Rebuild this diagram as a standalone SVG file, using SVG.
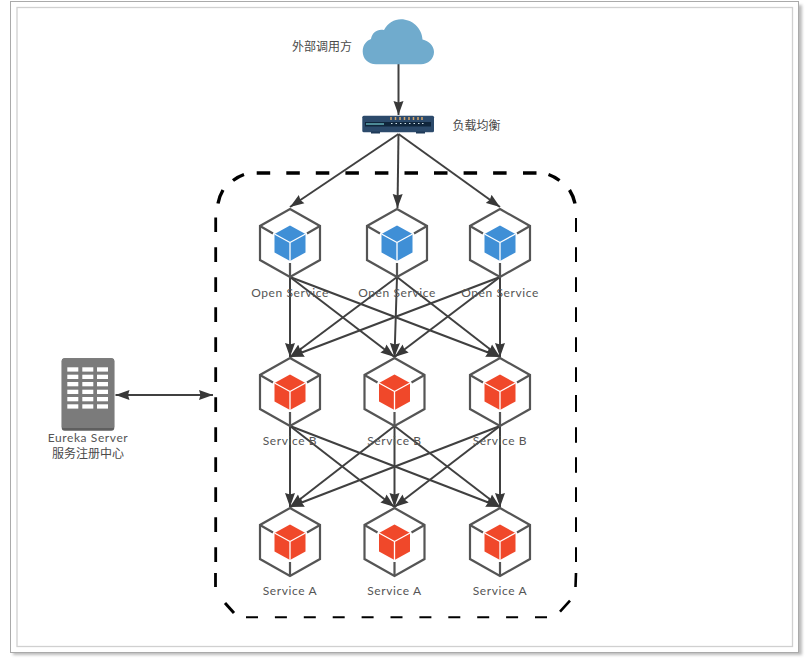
<svg xmlns="http://www.w3.org/2000/svg" width="806" height="660" viewBox="0 0 806 660">
<style>
.t{font-family:"Lato","Noto Sans CJK SC",sans-serif;font-size:12px;fill:#555;text-anchor:middle;letter-spacing:.6px}
.c{font-family:"Noto Sans CJK SC",sans-serif;font-size:12px;fill:#4a4a4a;text-anchor:middle}
.a{stroke:#404040;stroke-width:2;fill:none;marker-end:url(#ah)}
.hex{fill:#fff;stroke:#555;stroke-width:2.2}
.sp{stroke:#555;stroke-width:2.2;fill:none}
.cw{stroke:#fff;stroke-width:1.3;fill:none}
.w{fill:#fff}
.d{fill:none;stroke:#000}
</style>
<defs>
<filter id="blur" x="-5%" y="-5%" width="110%" height="110%"><feGaussianBlur stdDeviation="1.5"/></filter>
<marker id="ah" markerUnits="userSpaceOnUse" markerWidth="15" markerHeight="11" refX="14" refY="5.500" orient="auto-start-reverse" viewBox="0 0 15 11">
<path d="M0 0.500L14 5.500L0 10.500L1.500 5.500Z" fill="#383838"/>
</marker>
<g id="hexb">
<path class="hex" d="M0-34L30-17V17L0 34L-30 17V-17Z"/>
<path class="sp" d="M-30-17L-17-9.500M30-17L17-9.500M0 34V20"/>
</g>
<g id="blue"><use href="#hexb"/><path d="M0-17.500L15.500-9V9.500L0 18L-15.500 9.500V-9Z" fill="#3f8fd6"/><path class="cw" d="M0-.5V18M0-.5L-15.500-9M0-.5L15.500-9"/></g>
<g id="red"><use href="#hexb"/><path d="M0-17.500L15.500-9V9.500L0 18L-15.500 9.500V-9Z" fill="#f0482a"/><path class="cw" d="M0-.5V18M0-.5L-15.500-9M0-.5L15.500-9"/></g>
</defs>
<rect width="806" height="660" fill="#fff"/>
<rect id="frame-shadow" x="13" y="5" width="789" height="650" fill="#bbb" filter="url(#blur)"/>
<rect id="frame-outer" x="10.500" y="1.500" width="788" height="651" fill="#fff" stroke="#aaa"/>
<rect id="frame-inner" x="17" y="7.500" width="775.500" height="639" fill="#fff" stroke="#d0d0d0" stroke-width="1.300"/>
<g id="boundary">
<path class="d" stroke-width="3.400" d="M256.700 173H270.200M286.300 173H299.800M315.800 173H329.300M345.400 173H358.900M374.900 173H388.400M404.500 173H418M434 173H447.500M463.600 173H477.100M493.100 173H506.600M523 173H536.500"/>
<path class="d" stroke-width="3.400" d="M244 174.500A40 40 0 0 0 233 180.500M223 190A40 40 0 0 0 218 203.500M548.500 174.500A40 40 0 0 1 559.500 180.500M569.500 190A40 40 0 0 1 575 203.500"/>
<path class="d" stroke-width="2.800" d="M215.700 217.500V232M215.700 247.300V262M215.700 277.300V292M215.700 307.300V322M215.700 337.300V352M215.700 367.300V382M215.700 397.300V412M215.700 427.300V442M215.700 457.300V472M215.700 487.300V502M215.700 517.300V532M215.700 547.300V562M215.500 573V587"/>
<path class="d" stroke-width="3" d="M225 603L234 613"/>
<path class="d" stroke-width="2" d="M576 218V232M576 247.300V262M576 277.300V292M576 307.300V322M576 337.300V352M576 367.300V382M576 395V412M576 427.300V442.700M576 457.300V472.700M576 487.300V502M576 517.300V532M576 547.300V562"/>
<path class="d" stroke-width="2.600" d="M575.500 587L576 573M570 600.700L560 611.700"/>
<path class="d" stroke-width="2" d="M246 617.300H258M274.900 617.300H286.900M303.800 617.300H315.800M332.700 617.300H344.700M361.600 617.300H373.600M390.500 617.300H402.500M419.400 617.300H431.400M448.300 617.300H460.300M477.200 617.300H489.200M506.100 617.300H518.100M535 617.300H547"/>
</g>
<g id="connectors">
<path class="a" d="M398.500 64V115"/>
<path class="a" d="M398.500 134L290 207"/>
<path class="a" d="M398.500 134L397.500 208"/>
<path class="a" d="M398.500 134L500 207"/>
<path class="a" d="M290 277V357"/><path class="a" d="M290 277L394.500 357"/><path class="a" d="M290 277L500 357"/>
<path class="a" d="M397 277L290 357"/><path class="a" d="M397 277L394.500 357"/><path class="a" d="M397 277L500 357"/>
<path class="a" d="M500 277L290 357"/><path class="a" d="M500 277L394.500 357"/><path class="a" d="M500 277V357"/>
<path class="a" d="M290 426V507"/><path class="a" d="M290 426L394.500 507"/><path class="a" d="M290 426L500 507"/>
<path class="a" d="M394.500 426L290 507"/><path class="a" d="M394.500 426V507"/><path class="a" d="M394.500 426L500 507"/>
<path class="a" d="M500 426L290 507"/><path class="a" d="M500 426L394.500 507"/><path class="a" d="M500 426V507"/>
<path d="M115.500 395H213" style="stroke:#404040;stroke-width:2;fill:none;marker-start:url(#ah);marker-end:url(#ah)"/>
</g>
<g id="caller">
<path d="M376 64.300C368 64.300 362.700 58.500 362.700 51.500C362.700 44.500 367 40.500 371 39C372 32 378 28.500 384 30C388 23 394 19.300 401 19.300C412 19.300 422 28 422.500 39.500C429 41 434 46 434 52C434 59 428 64.300 421 64.300Z" fill="#70abcd"/>
<text class="c" x="322" y="51">外部调用方</text>
</g>
<g id="lb">
<rect x="362.300" y="115.700" width="71.700" height="16.500" rx="1.500" fill="#2c4a6b"/>
<rect x="371" y="131.500" width="9" height="2" fill="#1f3a58"/><rect x="416" y="131.500" width="9" height="2" fill="#1f3a58"/>
<rect x="365" y="122" width="66" height="4.500" fill="#10263c"/>
<rect x="366" y="123" width="18" height="2" fill="#4d8a96"/>
<path d="M391 117V120M395.500 117V120M400 117V120M404.500 117V120M409 117V120M413.500 117V120M418 117V120M422 117V120" stroke="#d9a868" stroke-width="1.500"/>
<path d="M391 123.500h1.500M395.500 123.500h1.500M400 123.500h1.500M404.500 123.500h1.500M409 123.500h1.500M413.500 123.500h1.500M418 123.500h1.500M422 123.500h1.500" stroke="#cfe0e8" stroke-width="1"/>
<text class="c" x="476.500" y="130">负载均衡</text>
</g>
<g id="open1"><use href="#blue" x="290" y="243"/><text class="t" x="290" y="297">Open Service</text></g>
<g id="open2"><use href="#blue" x="397" y="243"/><text class="t" x="397" y="297">Open Service</text></g>
<g id="open3"><use href="#blue" x="500" y="243"/><text class="t" x="500" y="297">Open Service</text></g>
<g id="b1"><use href="#red" x="290" y="392"/><text class="t" x="290" y="445">Service B</text></g>
<g id="b2"><use href="#red" x="394.500" y="392"/><text class="t" x="394.500" y="445">Service B</text></g>
<g id="b3"><use href="#red" x="500" y="392"/><text class="t" x="500" y="445">Service B</text></g>
<g id="a1"><use href="#red" x="290" y="542"/><text class="t" x="290" y="595">Service A</text></g>
<g id="a2"><use href="#red" x="394.500" y="542"/><text class="t" x="394.500" y="595">Service A</text></g>
<g id="a3"><use href="#red" x="500" y="542"/><text class="t" x="500" y="595">Service A</text></g>
<g id="eureka">
<rect x="61.700" y="358.300" width="52.600" height="72.400" rx="3" fill="#5f5f5f"/>
<path d="M61.700 361.300a3 3 0 0 1 3-3h46.600a3 3 0 0 1 3 3V427a2 2 0 0 1-2 1H63.700a2 2 0 0 1-2-1Z" fill="#7b7b7b"/>
<g class="w">
<rect x="67.300" y="367.300" width="11" height="4.300"/><rect x="82.300" y="367.300" width="11" height="4.300"/><rect x="97" y="367.300" width="11" height="4.300"/>
<rect x="67.300" y="374.700" width="11" height="4.300"/><rect x="82.300" y="374.700" width="11" height="4.300"/><rect x="97" y="374.700" width="11" height="4.300"/>
<rect x="67.300" y="382" width="11" height="4.300"/><rect x="82.300" y="382" width="11" height="4.300"/><rect x="97" y="382" width="11" height="4.300"/>
<rect x="67.300" y="389.700" width="11" height="4.300"/><rect x="82.300" y="389.700" width="11" height="4.300"/><rect x="97" y="389.700" width="11" height="4.300"/>
<rect x="67.300" y="397" width="11" height="4.300"/><rect x="82.300" y="397" width="11" height="4.300"/><rect x="97" y="397" width="11" height="4.300"/>
<rect x="67.300" y="404.300" width="11" height="4.300"/><rect x="82.300" y="404.300" width="11" height="4.300"/><rect x="97" y="404.300" width="11" height="4.300"/>
</g>
<text class="t" x="88" y="441.500">Eureka Server</text>
<text class="c" x="88" y="458">服务注册中心</text>
</g>
</svg>
